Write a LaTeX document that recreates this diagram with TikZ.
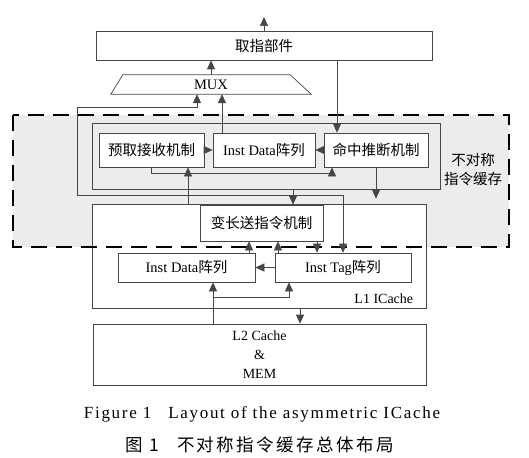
\documentclass[tikz,border=0pt]{standalone}
\usepackage{fontspec}
\setmainfont{Liberation Serif}
\newfontfamily\cjk{Noto Sans CJK SC}
\newfontfamily\capen[LetterSpace=10]{Liberation Serif}
\newfontfamily\capcn[LetterSpace=14]{Noto Sans CJK SC}
\usepackage{tikz}
\usetikzlibrary{arrows.meta, shapes.geometric, positioning}
\definecolor{lineg}{RGB}{70,70,70}
\definecolor{zoneg}{RGB}{236,236,236}
\tikzset{
  unit/.style={draw=lineg, fill=white, line width=0.7pt, inner sep=2pt, font=\fontsize{14.5}{16}\selectfont},
  arr/.style={draw=lineg, line width=0.7pt, -{Triangle[length=9pt, width=8pt]}},
  biarr/.style={arr, {Triangle[length=9pt, width=8pt]}-{Triangle[length=9pt, width=8pt]}},
}

\begin{document}
\begin{tikzpicture}[x=1pt, y=-1pt]
  \useasboundingbox (0,0) rectangle (529,457);

  % fetch unit and mux
  \node[unit, minimum width=336pt, minimum height=29pt] (fetch) at (264,45.5) {\cjk 取指部件};
  \node[font=\fontsize{14.5}{16}\selectfont, minimum width=200pt, minimum height=19pt, inner sep=0pt] (mux) at (211,84.5) {MUX};
  \draw[lineg, line width=0.7pt] (mux.south west) -- (mux.south east) -- ([xshift=-21pt]mux.north east) -- ([xshift=12pt]mux.north west) -- cycle;

  % asymmetric cache zone
  \fill[zoneg] (13,115) rectangle (509,247);
  \node[unit, fill=zoneg, minimum width=348pt, minimum height=66pt] (grp) at (266,156) {};
  \node[unit, minimum width=105pt, minimum height=34pt] (pref) at (151.5,150) {\cjk 预取接收机制};
  \node[unit, minimum width=102pt, minimum height=34pt] (dtop) at (264,150) {Inst Data{\cjk 阵列}};
  \node[unit, minimum width=104pt, minimum height=34pt] (hit) at (376,150) {\cjk 命中推断机制};
  \node[font=\cjk\fontsize{14.5}{19}\selectfont, align=center] (asym) at (473,170) {不对称\\指令缓存};

  % L1 ICache
  \node[unit, minimum width=334pt, minimum height=104pt] (l1) at (259,256) {};
  \draw[black, line width=2.2pt, dash pattern=on 16pt off 9pt] (13,115) rectangle (509,247);
  \node[unit, minimum width=123pt, minimum height=36pt] (vlen) at (261.5,223) {\cjk 变长送指令机制};
  \node[unit, minimum width=137pt, minimum height=29pt] (dbot) at (186.5,267.5) {Inst Data{\cjk 阵列}};
  \node[unit, minimum width=136pt, minimum height=29pt] (tag) at (343,267.5) {Inst Tag{\cjk 阵列}};
  \node[font=\fontsize{14}{16}\selectfont, anchor=south east, inner sep=0pt] (l1lab) at ([xshift=-13pt, yshift=5pt]l1.south east) {L1 ICache};

  % L2
  \node[unit, minimum width=333pt, minimum height=61pt, align=center, font=\fontsize{14}{19}\selectfont] (l2) at (259.5,354.5) {L2 Cache\\\&\\MEM};

  % captions
  \node[font=\capen\fontsize{17}{20}\selectfont] (capen) at (262,414) {Figure 1\quad Layout of the asymmetric ICache};
  \node[font=\capcn\fontsize{17.5}{20}\selectfont] (capcn) at (260,445) {图 1\quad 不对称指令缓存总体布局};

  % connectors
  \coordinate (top) at (264,17);
  \draw[arr] (fetch.north) -- (top);
  \draw[arr] (mux.north) -- (mux.north |- fetch.south);
  \coordinate (hitin) at ([xshift=-39pt]hit.north);
  \draw[arr] (hitin |- fetch.south) -- (hitin);
  \draw[arr] (pref) -- (dtop);
  \draw[arr] (hit) -- (dtop);
  \coordinate (dout) at ([xshift=-42pt]dtop.north);
  \draw[arr] (dout) -- (dout |- mux.south);
  \coordinate (muxin) at ([xshift=-14pt]mux.south);
  \coordinate (lp1) at (77,195);
  \coordinate (lp2) at (77,107);
  \draw[biarr] (tag.north) |- (lp1) -- (lp2) -| (muxin);
  \coordinate (hitlo) at ([xshift=-44pt]hit.south);
  \draw[arr] (pref.south) -- ++(0,6) -| (hitlo);
  \coordinate (prefin) at ([xshift=36.5pt]pref.south);
  \draw[arr] (prefin |- l1.north) -- (prefin);
  \coordinate (vin) at ([xshift=31.5pt]vlen.north);
  \draw[arr] (vin |- grp.south) -- (vin);
  \draw[arr, shorten >=5pt] (hit.south) -- (hit.south |- l1.north);
  \coordinate (d2v) at ([xshift=62.5pt]dbot.north);
  \draw[arr] (d2v) -- (d2v |- vlen.south);
  \coordinate (t2v) at ([xshift=-65pt]tag.north);
  \draw[arr] (t2v) -- (t2v |- vlen.south);
  \coordinate (v2t) at ([xshift=55.5pt]vlen.south);
  \draw[arr] (v2t) -- (v2t |- tag.north);
  \draw[arr] (tag) -- (dbot);
  \coordinate (d2in) at ([xshift=26.5pt]dbot.south);
  \draw[arr] (d2in |- l2.north) -- (d2in);
  \coordinate (br) at (213,297);
  \draw[arr] (br) -| ([xshift=-54pt]tag.south);
  \coordinate (l1out) at ([xshift=41pt]l1.south);
  \draw[arr] (l1out) -- (l1out |- l2.north);
\end{tikzpicture}
\end{document}
